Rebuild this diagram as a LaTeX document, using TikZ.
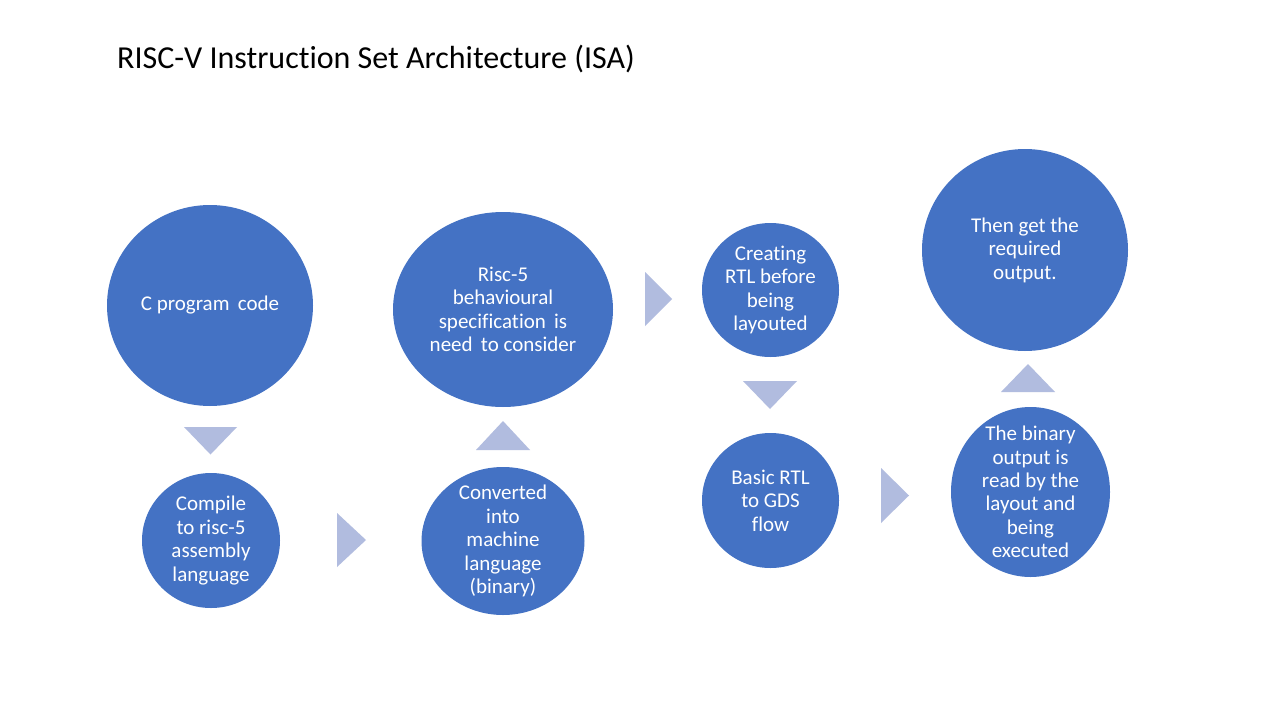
\documentclass[tikz,border=0pt]{standalone}
\usepackage{fontspec}
\setmainfont{Carlito}[RawFeature={-liga}]
\usetikzlibrary{shapes.geometric}
\definecolor{blob}{HTML}{4472C4}
\definecolor{chev}{HTML}{B1BCDF}
\tikzset{
  blobshape/.style={ellipse, fill=blob, draw=none, inner sep=0pt},
  blobtext/.style={text=white, align=center, font=\fontsize{21}{23.4}\selectfont, inner sep=0pt},
  chevron/.style={fill=chev, draw=none}
}
\begin{document}
\begin{tikzpicture}[x=1pt,y=-1pt]
\useasboundingbox[fill=white] (0,0) rectangle (1280,720);
% title
\node[anchor=base west, inner sep=0pt, font=\fontsize{32}{38}\selectfont] (title) at (117,68) {RISC-V Instruction Set Architecture (ISA)};
% shapes
\node[blobshape, minimum width=206pt, minimum height=201pt] (e1) at (210,305.5) {};
\node[blobshape, minimum width=138pt, minimum height=135pt] (e2) at (211,540.5) {};
\node[blobshape, minimum width=163pt, minimum height=148pt] (e3) at (503,541) {};
\node[blobshape, minimum width=220pt, minimum height=195pt] (e4) at (503,309.5) {};
\node[blobshape, minimum width=137pt, minimum height=134pt] (e5) at (770.5,290) {};
\node[blobshape, minimum width=137pt, minimum height=135pt] (e6) at (770.5,500.5) {};
\node[blobshape, minimum width=159pt, minimum height=170pt] (e7) at (1030.5,492) {};
\node[blobshape, minimum width=206pt, minimum height=202pt] (e8) at (1025,250) {};
% texts
\node[blobtext] (t1) at (e1.center) {C program\ \,code};
\node[blobtext] (t2) at (e2.center) {Compile\\to risc-5\\assembly\\language};
\node[blobtext] (t3) at (e3.center) {Converted\\into\\machine\\language\\(binary)};
\node[blobtext] (t4) at (e4.center) {Risc-5\\behavioural\\specification\ \,is\\need\ \,to consider};
\node[blobtext] (t5) at (e5.center) {Creating\\RTL before\\being\\layouted};
\node[blobtext] (t6) at (e6.center) {Basic RTL\\to GDS\\flow};
\node[blobtext] (t7) at (e7.center) {The binary\\output is\\read by the\\layout and\\being\\executed};
\node[blobtext] (t8) at (e8.center) {Then get the\\required\\output.};
% chevrons
\fill[chevron] (184,427) -- (237,427) -- (210.5,454.5) -- cycle;
\fill[chevron] (337,513) -- (337,567) -- (366,540) -- cycle;
\fill[chevron] (476,450) -- (530,450) -- (503,421) -- cycle;
\fill[chevron] (645,272) -- (645,326) -- (672,299) -- cycle;
\fill[chevron] (743,381) -- (797,381) -- (770,409) -- cycle;
\fill[chevron] (881,468) -- (881,523) -- (909,495.5) -- cycle;
\fill[chevron] (1001,392) -- (1055,392) -- (1028,364) -- cycle;
\end{tikzpicture}
\end{document}
